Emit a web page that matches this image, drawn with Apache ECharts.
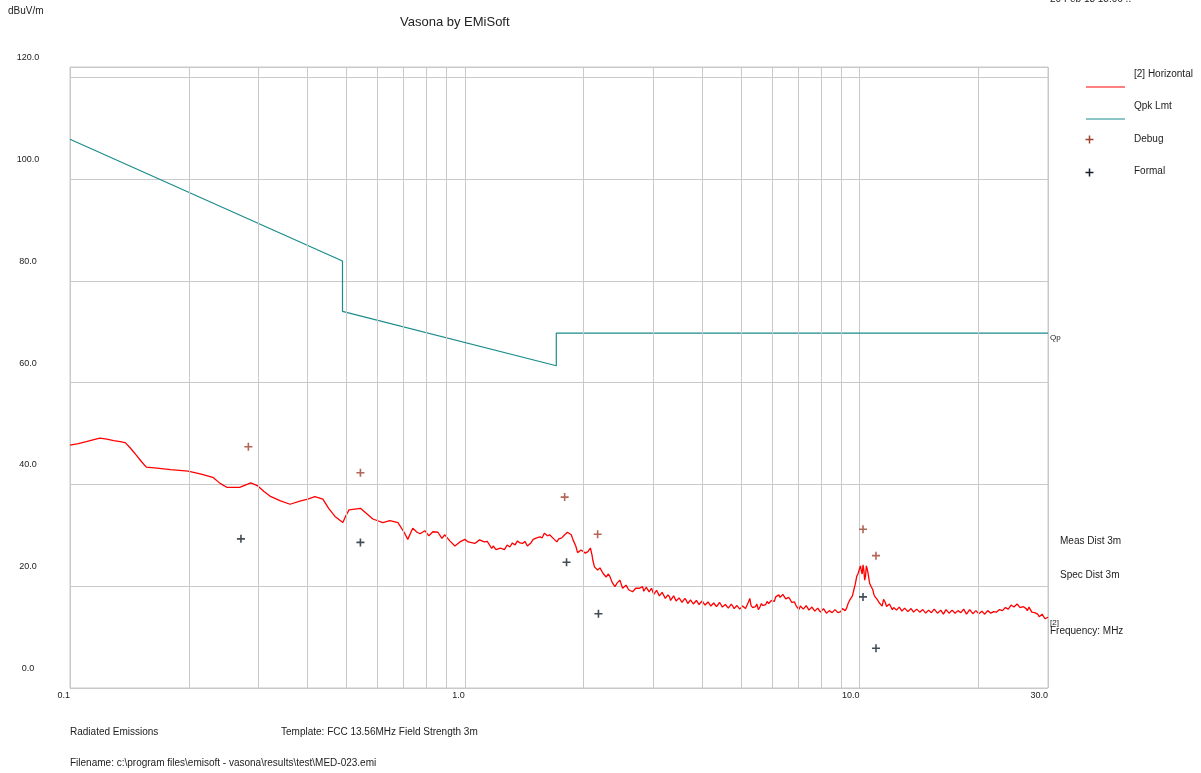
<!DOCTYPE html>
<html>
<head>
<meta charset="utf-8">
<script src="https://cdn.jsdelivr.net/npm/echarts@6/dist/echarts.min.js"></script>
<style>html,body{margin:0;padding:0;background:#fff;}#c{width:1201px;height:773px;}</style>
</head>
<body>
<div id="c"></div>
<script>
// ---- data (MHz, dBuV/m) ----
const traceLow = [
  [0.100,47.7],[0.105,48.0],[0.110,48.4],[0.115,48.8],[0.119,49.1],[0.124,48.9],[0.129,48.6],[0.134,48.4],
  [0.138,48.2],[0.142,47.2],[0.147,45.8],[0.152,44.4],[0.156,43.4],[0.166,43.2],[0.180,42.9],[0.199,42.6],
  [0.215,42.0],[0.230,41.4],[0.240,40.2],[0.250,39.4],[0.269,39.4],[0.287,40.3],[0.299,39.7],[0.310,38.6],
  [0.321,37.7],[0.340,36.8],[0.361,36.1],[0.382,36.7],[0.400,37.1],[0.417,37.6],[0.437,37.1],[0.452,35.3],
  [0.469,33.7],[0.491,32.5],[0.500,33.9],[0.509,35.0]
];
const traceMid = [
  [0.544,35.3],[0.585,33.2],[0.620,32.5],[0.646,32.9],[0.677,32.5],[0.703,30.5],[0.717,29.2],[0.738,31.4],
  [0.757,30.6],[0.770,30.3],[0.792,30.9],[0.811,29.9],[0.830,30.7],[0.855,30.6],[0.875,29.4],[0.890,30.1],
  [0.916,28.9],[0.944,27.9],[0.972,28.7],[1.00,29.2],[1.02,28.7],[1.03,28.9],[1.06,28.4],[1.09,29.1],
  [1.12,28.7],[1.14,28.8],[1.17,27.4],[1.18,27.9],[1.20,27.2],[1.23,27.5],[1.26,27.2],[1.28,28.1],
  [1.30,27.7],[1.32,28.5],[1.34,28.1],[1.36,28.9],[1.38,28.5],[1.40,28.4],[1.42,28.8],[1.44,27.9],
  [1.47,28.5],[1.49,29.2],[1.52,29.5],[1.55,29.7],[1.57,29.5],[1.59,30.4],[1.62,29.9],[1.64,30.1],
  [1.67,29.5],[1.71,28.7],[1.73,29.3],[1.76,29.5],[1.79,30.1],[1.82,30.6],[1.86,30.1],[1.88,29.1],
  [1.91,27.9],[1.93,26.6],[1.97,27.1],[1.99,27.1],[2.02,26.5],[2.05,26.8],[2.08,27.5],[2.10,26.1],
  [2.11,25.1],[2.13,23.8],[2.17,23.2],[2.20,23.6],[2.24,22.5],[2.28,21.8],[2.31,22.4],[2.33,21.9],
  [2.36,20.8],[2.40,19.9],[2.43,20.6],[2.47,21.2],[2.51,19.6],[2.56,20.2],[2.60,19.3],[2.66,18.9],
  [2.71,19.6],[2.77,19.6]
];
const traceHigh = [
  [2.82,19.9],[2.86,18.8],[2.90,19.5],[2.95,18.6],[2.99,19.3],[3.04,18.2],[3.09,18.9],[3.14,17.9],
  [3.19,18.5],[3.25,17.4],[3.30,17.9],[3.35,17.0],[3.41,17.8],[3.46,16.9],[3.52,17.5],[3.58,16.6],
  [3.64,17.2],[3.70,16.4],[3.76,17.0],[3.83,16.3],[3.89,16.9],[3.96,16.2],[4.03,16.8],[4.10,16.0],
  [4.17,16.6],[4.24,15.9],[4.31,16.5],[4.38,15.8],[4.46,16.3],[4.53,15.7],[4.61,16.2],[4.69,15.6],
  [4.77,16.1],[4.85,15.4],[4.93,15.9],[5.01,15.3],[5.10,16.4],[5.19,15.5],[5.27,17.6],[5.36,15.8],
  [5.45,16.0],[5.54,15.4],[5.64,16.6],[5.73,15.9],[5.83,17.0],[5.93,16.5],[6.03,17.4],[6.13,17.9],
  [6.24,18.3],[6.34,17.6],[6.45,18.1],[6.56,17.2],[6.67,17.4],[6.79,16.5],[6.90,16.2],[7.02,15.4],
  [7.14,15.9],[7.26,15.2],[7.38,15.8],[7.51,15.0],[7.64,15.6],[7.77,14.8],[7.90,15.4],[8.03,14.7],
  [8.17,15.3],[8.31,14.9],[8.45,15.5],[8.59,14.6],[8.74,15.1],[8.89,14.5],[9.04,15.6],[9.19,15.2],
  [9.35,16.6],[9.51,17.5],[9.67,19.3],[9.83,21.9],[10.00,23.5],[10.10,23.0],[10.20,24.2],[10.30,21.2],
  [10.40,24.0],[10.50,22.6],[10.60,20.6],[10.80,19.3],[10.90,18.1],[11.10,17.3],[11.30,16.6],[11.50,17.4],
  [11.70,16.0],[11.90,16.5],[12.10,15.4],[12.30,16.0],[12.50,15.2],[12.70,15.8],[12.90,14.9],[13.10,15.5],
  [13.40,14.8],[13.60,15.4],[13.80,14.7],[14.10,15.3],[14.30,14.6],[14.60,15.2],[14.80,14.5],[15.10,15.1],
  [15.30,14.6],[15.60,15.3],[15.90,14.4],[16.20,15.0],[16.40,14.6],[16.70,15.2],[17.00,14.5],[17.30,15.1],
  [17.60,14.4],[17.90,15.5],[18.20,14.7],[18.50,15.3],[18.80,14.6],[19.20,15.2],[19.50,14.3],[19.90,15.0],
  [20.20,14.4],[20.60,14.9],[20.90,14.2],[21.30,15.0],[21.70,14.5],[22.00,15.3],[22.40,14.8],[22.80,15.6],
  [23.20,15.0],[23.60,16.1],[24.00,15.3],[24.40,16.6],[24.80,15.7],[25.30,16.4],[25.70,15.6],[26.20,16.2],
  [26.60,15.2],[27.10,15.6],[27.50,14.6],[28.00,15.0],[28.50,14.0],[29.00,14.5],[29.50,13.6],[30.00,13.9]
];
const traceHighFill = [
  [2.84,19.0],[2.88,19.8],[2.93,18.9],[2.97,19.6],[3.01,18.4],[3.06,19.2],[3.11,18.1],[3.16,18.8],
  [3.22,17.6],[3.27,18.3],[3.32,17.2],[3.38,18.1],[3.43,17.1],[3.49,17.7],[3.55,16.8],[3.61,17.6],
  [3.67,16.6],[3.73,17.3],[3.79,16.5],[3.86,17.2],[3.92,16.4],[3.99,17.1],[4.06,16.3],[4.13,16.9],
  [4.20,16.1],[4.27,16.7],[4.34,16.0],[4.42,16.8],[4.49,15.9],[4.57,16.4],[4.65,15.7],[4.73,16.5],
  [4.81,15.6],[4.89,16.2],[4.97,15.5],[5.05,16.1],[5.14,15.6],[5.23,16.9],[5.31,16.2],[5.40,15.6],
  [5.49,16.5],[5.59,15.9],[5.68,16.2],[5.78,16.4],[5.88,16.6],[5.98,17.2],[6.08,17.0],[6.18,18.1],
  [6.29,17.8],[6.39,18.4],[6.50,17.5],[6.61,17.8],[6.73,16.8],[6.84,16.9],[6.96,15.8],[7.08,16.1],
  [7.20,15.5],[7.32,16.2],[7.44,15.3],[7.57,15.9],[7.70,15.1],[7.83,15.7],[7.96,14.9],[8.10,15.6],
  [8.24,14.7],[8.38,15.2],[8.52,14.8],[8.66,15.4],[8.81,14.8],[8.96,15.0],[9.11,15.9],[9.27,15.7],
  [9.43,17.2],[9.59,18.1],[9.75,20.4],[9.91,22.5],[10.05,24.0],[10.15,22.4],[10.25,23.1],[10.35,22.0],
  [10.45,23.4],[10.55,21.6],[10.70,19.9],[10.85,18.6],[11.00,17.8],[11.20,16.8],[11.40,16.1],[11.60,16.9],
  [11.80,15.7],[12.00,16.2],[12.20,15.8],[12.40,15.3],[12.60,15.9],[12.80,15.1],[13.00,15.7],[13.25,15.0],
  [13.50,15.6],[13.70,14.9],[13.95,15.5],[14.20,14.9],[14.45,15.4],[14.70,14.7],[14.95,15.3],[15.20,14.8],
  [15.45,15.5],[15.75,14.7],[16.05,15.3],[16.30,14.5],[16.55,15.4],[16.85,14.7],[17.15,15.3],[17.45,14.7],
  [17.75,15.2],[18.05,14.8],[18.35,15.5],[18.65,14.5],[19.00,15.4],[19.35,14.6],[19.70,15.2],[20.05,14.6],
  [20.40,15.1],[20.75,14.5],[21.10,15.2],[21.50,14.7],[21.85,15.0],[22.20,14.9],[22.60,15.4],[23.00,15.2],
  [23.40,15.8],[23.80,15.5],[24.20,16.3],[24.60,15.9],[25.05,16.5],[25.50,15.8],[25.95,16.0],[26.40,15.6],
  [26.85,15.9],[27.30,14.9],[27.75,14.8],[28.25,14.5],[28.75,14.2],[29.25,14.0],[29.75,13.7]
];
const qpkLimit = [[0.1,107.8],[0.49,83.9],[0.49,74.0],[1.705,63.3],[1.705,69.7],[30,69.7]];
const debugPts = [[0.283,47.4],[0.544,42.3],[1.79,37.5],[2.17,30.2],[10.2,31.2],[11.0,26.0]];
const formalPts = [[0.271,29.3],[0.544,28.6],[1.81,24.7],[2.18,14.6],[10.2,17.9],[11.0,7.8]];
const xMinorGrid = [0.2,0.3,0.4,0.5,0.6,0.7,0.8,0.9,2,3,4,5,6,7,8,9,20];
const yTicks = {min:0, max:122, interval:20};
const xRange = {min:0.1, max:30};

// ---- chart ----
const FONT = "'Liberation Sans', Arial, sans-serif";
const TXT = '#222';
const GRIDC = '#c9c9c9';
const RED = '#ff0000';
const TEAL = '#1a8c8c';
const DEBUGC = '#a0402e';
const FORMALC = '#14202e';
const PLUS = 'path://M4,0h2v4h4v2h-4v4h-2v-4h-4v-2h4z';

const traceAll = traceLow.concat(traceMid, traceHigh, traceHighFill).sort((a, b) => a[0] - b[0]);

const chart = echarts.init(document.getElementById('c'), null, {renderer:'canvas'});
const txt = (x, y, s, size) => ({type:'text', x:x, y:y, silent:true,
  style:{text:s, fill:TXT, font:(size||10)+'px '+FONT, textVerticalAlign:'top'}});
const seg = (x1, y1, x2, y2, c, w) => ({type:'line', silent:true, shape:{x1:x1, y1:y1, x2:x2, y2:y2}, style:{stroke:c, lineWidth:w||1}});

chart.setOption({
  animation:false,
  backgroundColor:'#fff',
  textStyle:{fontFamily:FONT},
  title:{text:'Vasona by EMiSoft', left:395, top:11,
    textStyle:{fontSize:13, fontWeight:'normal', color:TXT, fontFamily:FONT}},
  grid:{left:70, right:153, top:67, bottom:85, show:true, borderColor:GRIDC, borderWidth:1, containLabel:false},
  xAxis:{type:'log', logBase:10, min:xRange.min, max:xRange.max,
    axisLine:{show:false}, axisTick:{show:false},
    splitLine:{show:true, lineStyle:{color:GRIDC, width:1}},
    axisLabel:{fontSize:9, color:TXT, margin:3, align:'right', fontFamily:FONT,
      formatter:v=>(+v).toFixed(1)}},
  yAxis:{type:'value', min:yTicks.min, max:yTicks.max, interval:yTicks.interval,
    axisLine:{show:false}, axisTick:{show:false},
    splitLine:{show:true, lineStyle:{color:GRIDC, width:1}},
    axisLabel:{fontSize:9, color:TXT, margin:42, align:'center', verticalAlign:'bottom',
      padding:[0,0,15,0], fontFamily:FONT,
      formatter:v=> v>120 ? '' : (+v).toFixed(1)}},
  series:[
    {type:'line', data:[], silent:true, z:1,
      markLine:{silent:true, symbol:['none','none'], label:{show:false},
        lineStyle:{color:GRIDC, width:1, type:'solid'},
        data:xMinorGrid.map(v=>({xAxis:v}))}},
    {name:'Qpk Lmt', type:'line', data:qpkLimit, showSymbol:false, symbol:'none', z:3,
      lineStyle:{color:TEAL, width:1.2},
      endLabel:{show:true, formatter:'Qp', fontSize:8, color:TXT, distance:2, offset:[0,5], fontFamily:FONT}},
    {name:'[2] Horizontal', type:'line', data:traceAll, showSymbol:false, symbol:'none', z:4,
      lineStyle:{color:RED, width:1.3},
      endLabel:{show:true, formatter:'[2]', fontSize:8, color:TXT, distance:2, offset:[0,6], fontFamily:FONT}},
    {name:'Debug', type:'scatter', data:debugPts, symbol:PLUS, symbolSize:8, z:5,
      itemStyle:{color:DEBUGC}},
    {name:'Formal', type:'scatter', data:formalPts, symbol:PLUS, symbolSize:8, z:5,
      itemStyle:{color:FORMALC}}
  ],
  graphic:[
    txt(8, 6, 'dBuV/m', 10),
    txt(1050, -6, '20 Feb 18 15:06 ..', 10),
    txt(1134, 69, '[2] Horizontal', 10),
    seg(1086, 87, 1125, 87, RED, 1),
    txt(1134, 101, 'Qpk Lmt', 10),
    seg(1086, 119, 1125, 119, TEAL, 1.2),
    txt(1134, 134, 'Debug', 10),
    seg(1085.5, 139.5, 1093.5, 139.5, DEBUGC, 1.5),
    seg(1089.5, 135.5, 1089.5, 143.5, DEBUGC, 1.5),
    txt(1134, 166, 'Formal', 10),
    seg(1085.5, 172.5, 1093.5, 172.5, FORMALC, 1.5),
    seg(1089.5, 168.5, 1089.5, 176.5, FORMALC, 1.5),
    txt(1060, 536, 'Meas Dist 3m', 10),
    txt(1060, 570, 'Spec Dist 3m', 10),
    txt(1050, 626, 'Frequency: MHz', 10),
    txt(70, 727, 'Radiated Emissions', 10),
    txt(281, 727, 'Template: FCC 13.56MHz Field Strength 3m', 10),
    txt(70, 758, 'Filename: c:\\program files\\emisoft - vasona\\results\\test\\MED-023.emi', 10)
  ]
});
</script>
</body>
</html>
